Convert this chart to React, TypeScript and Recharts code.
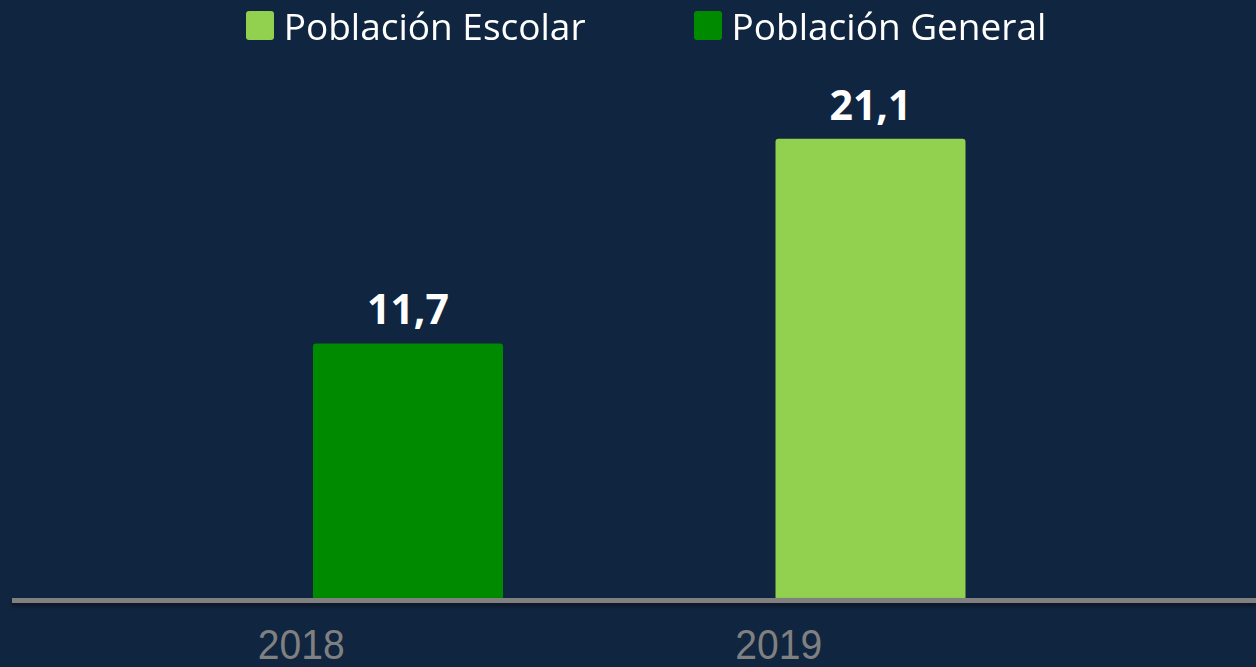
import React from 'react';
import { BarChart, Bar, XAxis, YAxis, Legend, LabelList } from 'recharts';

const years = ['2018', '2019'];
const escolar = [null, 21.1];
const general = [11.7, null];

const seriesNames = { escolar: 'Población Escolar', general: 'Población General' };

const COLORS = {
  bg: '#10253f',
  escolar: '#92d050',
  general: '#008a00',
  axis: '#808080',
};

const data = years.map((year, i) => ({
  year,
  escolar: escolar[i],
  general: general[i],
}));

const fmt = (v: any) => (v == null ? '' : String(v).replace('.', ','));

const LegendContent = () => (
  <div
    style={{
      display: 'flex',
      justifyContent: 'center',
      gap: 108,
      height: 54,
      paddingLeft: 24,
      fontFamily: '"Open Sans", sans-serif',
      fontSize: 37,
      color: '#ffffff',
      lineHeight: '54px',
    }}
  >
    {(['escolar', 'general'] as const).map((k) => (
      <div key={k} style={{ display: 'flex', alignItems: 'center', marginTop: -3 }}>
        <span
          style={{
            display: 'inline-block',
            width: 28,
            height: 29,
            borderRadius: 3,
            background: COLORS[k],
            marginRight: 10,
          }}
        />
        <span>{seriesNames[k]}</span>
      </div>
    ))}
  </div>
);

const YearTick = (props: any) => {
  const { x, y, payload } = props;
  const dx = payload.value === '2018' ? -107 : -92;
  return (
    <text
      x={x + dx}
      y={y + 53}
      textAnchor="middle"
      fill={COLORS.axis}
      fontFamily='"Liberation Sans", Arial, sans-serif'
      fontSize={42}
      transform={`translate(${x + dx} 0) scale(0.93 1) translate(${-(x + dx)} 0)`}
    >
      {payload.value}
    </text>
  );
};

const valueLabel = (key: string) => (
  <LabelList
    dataKey={key}
    position="top"
    offset={19}
    formatter={fmt}
    fill="#ffffff"
    fontFamily='"Open Sans", sans-serif'
    fontWeight={700}
    fontSize={41}
  />
);

export default function App() {
  return (
    <div style={{ position: 'fixed', left: 0, top: 0, width: 1256, height: 667, background: COLORS.bg }}>
      <BarChart
        width={1256}
        height={667}
        data={data}
        margin={{ top: 0, right: 0, bottom: 0, left: 12 }}
        barSize={190}
      >
        <defs>
          <filter id="axisShadow" filterUnits="userSpaceOnUse" x="0" y="580" width="1256" height="40">
            <feDropShadow dx="0" dy="3" stdDeviation="2" floodColor="#000000" floodOpacity="0.45" />
          </filter>
        </defs>
        <Legend verticalAlign="top" height={54} content={<LegendContent />} />
        <XAxis
          dataKey="year"
          height={69}
          padding={{ left: 165, right: 154 }}
          tickLine={false}
          axisLine={{ stroke: COLORS.axis, strokeWidth: 5, transform: 'translate(0 2.5)', filter: 'url(#axisShadow)' }}
          tick={<YearTick />}
          interval={0}
        />
        <YAxis hide domain={[0, 25]} />
        <Bar dataKey="general" stackId="a" fill={COLORS.general} radius={[3, 3, 0, 0]} isAnimationActive={false}>
          {valueLabel('general')}
        </Bar>
        <Bar dataKey="escolar" stackId="a" fill={COLORS.escolar} radius={[3, 3, 0, 0]} isAnimationActive={false}>
          {valueLabel('escolar')}
        </Bar>
      </BarChart>
    </div>
  );
}
